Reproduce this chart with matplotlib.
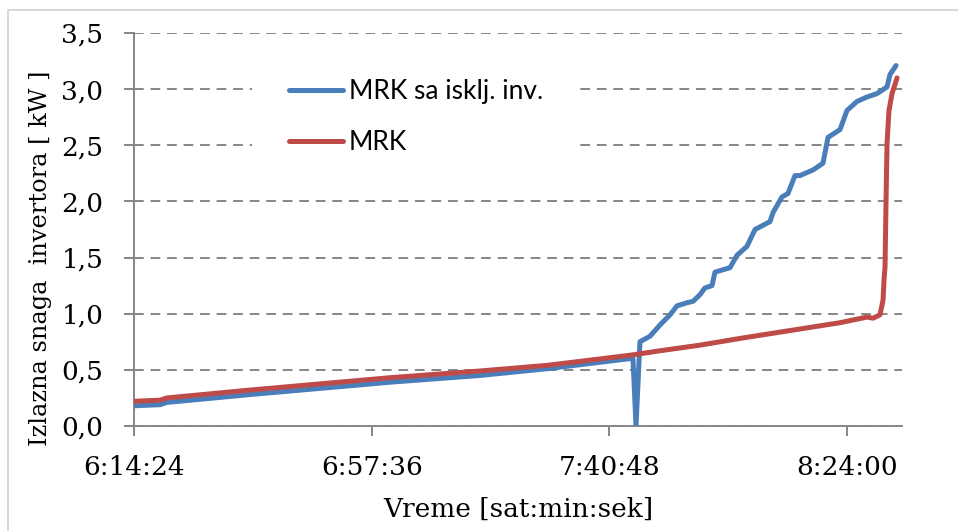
import matplotlib
matplotlib.use("Agg")
import matplotlib.pyplot as plt
import matplotlib.ticker as mticker
from matplotlib.patches import Rectangle

# vreme (sat:min:sek) i izlazna snaga [kW]
mrk_time = ["6:14:24", "6:19:08", "6:20:24", "6:35:29", "7:00:56", "7:17:17",
            "7:29:28", "7:44:33", "7:50:01", "7:57:17", "8:04:33", "8:13:38",
            "8:22:44", "8:27:38", "8:28:44", "8:30:00", "8:30:33", "8:30:44",
            "8:30:55", "8:31:06", "8:31:17", "8:31:38", "8:32:11", "8:33:06"]
mrk_power = [0.22, 0.23, 0.25, 0.32, 0.43, 0.49,
             0.54, 0.63, 0.67, 0.72, 0.78, 0.85,
             0.92, 0.97, 0.96, 0.99, 1.12, 1.30,
             1.42, 2.01, 2.52, 2.81, 2.96, 3.10]

inv_time = ["6:14:24", "6:19:08", "6:20:24", "6:35:29", "7:00:56", "7:17:17",
            "7:29:28", "7:44:33", "7:45:06", "7:45:39", "7:46:22", "7:48:12",
            "7:50:01", "7:51:50", "7:53:06", "7:55:06", "7:56:01", "7:57:17",
            "7:58:11", "7:59:28", "8:00:00", "8:02:44", "8:04:00", "8:05:49",
            "8:07:17", "8:10:00", "8:10:33", "8:12:11", "8:13:16", "8:14:33",
            "8:15:27", "8:17:49", "8:19:38", "8:20:33", "8:22:44", "8:24:00",
            "8:25:49", "8:27:38", "8:29:27", "8:31:17", "8:31:49", "8:32:55"]
inv_power = [0.18, 0.19, 0.21, 0.28, 0.39, 0.45,
             0.51, 0.60, 0.60, 0.00, 0.75, 0.80,
             0.90, 0.99, 1.07, 1.10, 1.11, 1.17,
             1.23, 1.25, 1.37, 1.41, 1.52, 1.60,
             1.75, 1.82, 1.90, 2.04, 2.07, 2.23,
             2.23, 2.28, 2.34, 2.57, 2.64, 2.81,
             2.89, 2.93, 2.96, 3.02, 3.13, 3.21]

tick_labels = ["6:14:24", "6:57:36", "7:40:48", "8:24:00"]
x_max = "8:34:00"


def to_sec(s):
    h, m, sec = s.split(":")
    return int(h) * 3600 + int(m) * 60 + int(sec)


def fmt_time(v, pos=None):
    v = int(round(v))
    return f"{v // 3600}:{(v % 3600) // 60:02d}:{v % 60:02d}"


def fmt_comma(v, pos=None):
    return f"{v:.1f}".replace(".", ",")


serif = "DejaVu Serif"
fig = plt.figure(figsize=(9.58, 5.31), dpi=100)
ax = fig.add_axes([134 / 958, 1 - 426 / 531, 768 / 958, 393 / 531])

# okvir grafikona
fig.patches.append(Rectangle((8, -10), 1000, 20 + 511, transform=None,
                             fill=False, edgecolor="#D0D0D0", linewidth=1.2))

ax.plot([to_sec(t) for t in inv_time], inv_power, color="#4A7EBB",
        linewidth=3.6, label="MRK sa isklj. inv.", solid_joinstyle="round",
        solid_capstyle="round", zorder=3)
ax.plot([to_sec(t) for t in mrk_time], mrk_power, color="#BE4B48",
        linewidth=3.6, label="MRK", solid_joinstyle="round",
        solid_capstyle="round", zorder=3)

ax.set_xlim(to_sec(tick_labels[0]), to_sec(x_max))
ax.set_ylim(0, 3.5)
ax.set_xticks([to_sec(t) for t in tick_labels])
ax.xaxis.set_major_formatter(mticker.FuncFormatter(fmt_time))
ax.set_yticks([i * 0.5 for i in range(8)])
ax.yaxis.set_major_formatter(mticker.FuncFormatter(fmt_comma))

ax.grid(axis="y", color="#868686", linestyle=(0, (5, 3.5)), linewidth=1.4)
ax.set_axisbelow(True)
for side in ["top", "right"]:
    ax.spines[side].set_visible(False)
for side in ["left", "bottom"]:
    ax.spines[side].set_color("#868686")
    ax.spines[side].set_linewidth(1.4)

ax.tick_params(axis="both", colors="#868686", width=1.4, length=7,
               labelcolor="black", labelsize=19)
ax.tick_params(axis="y", pad=15)
ax.tick_params(axis="x", pad=14)
for lbl in ax.get_xticklabels() + ax.get_yticklabels():
    lbl.set_family(serif)

ax.set_xlabel("Vreme [sat:min:sek]", family=serif, fontsize=19)
ax.xaxis.set_label_coords((518 - 134) / 768, -(497 - 426) / 393)
ax.set_ylabel("Izlazna snaga  invertora [ kW ]", family=serif, fontsize=17.3)
ax.yaxis.set_label_coords((52 - 134) / 768, (426 - 258) / 393)

leg = ax.legend(loc="center", bbox_to_anchor=(416 / 958, 1 - 117 / 531),
                bbox_transform=fig.transFigure,
                prop={"family": "Lato", "size": 19},
                frameon=True, fancybox=False, facecolor="white",
                edgecolor="none", framealpha=1, borderpad=1.4,
                handlelength=2.05, handletextpad=0.2, labelspacing=1.0)

fig.savefig("out.png", dpi=100)
